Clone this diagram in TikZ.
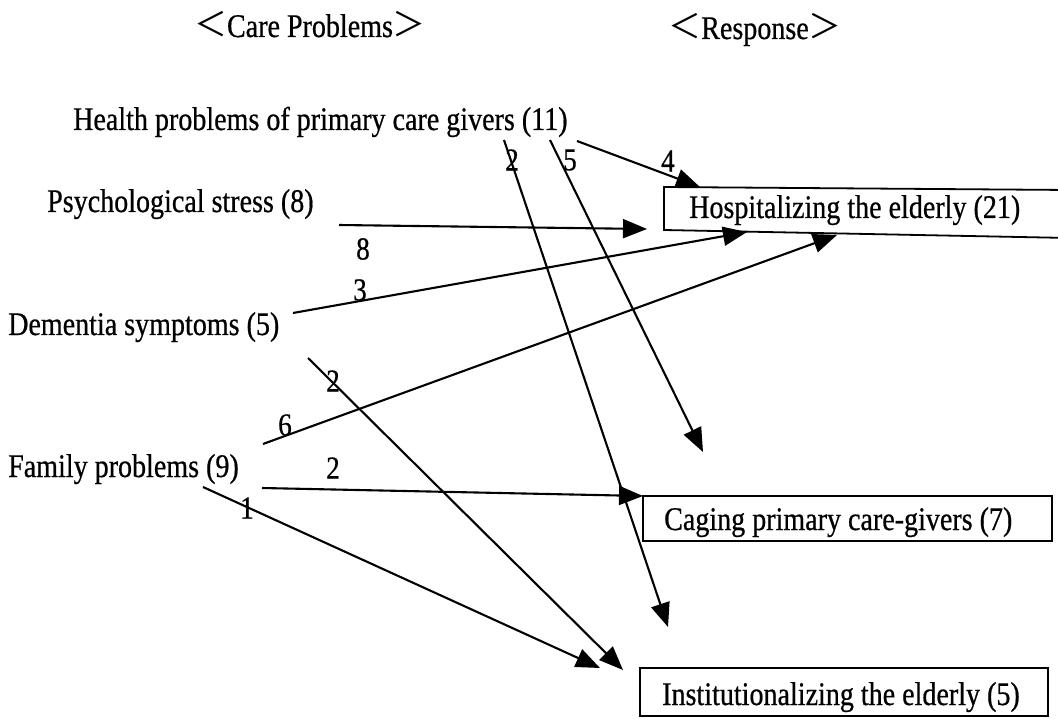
\documentclass[tikz,border=0pt]{standalone}
\usepackage{fontspec}
\setmainfont{Liberation Serif}[FakeStretch=0.85,FakeBold=0.6]
\newfontfamily\cjkbr{Noto Sans CJK JP}
\usetikzlibrary{arrows.meta}
\begin{document}
\begin{tikzpicture}[x=1pt,y=-1pt,
  lbl/.style={font=\fontsize{33}{36}\selectfont, inner sep=0pt, anchor=base west},
  hdr/.style={font=\fontsize{33}{36}\selectfont, inner sep=0pt, anchor=base},
  num/.style={font=\fontsize{32}{34}\selectfont, inner sep=0pt},
  con/.style={line width=2.1pt, -{Triangle[length=24pt,width=19pt]}},
  frame/.style={line width=1.8pt}]
\useasboundingbox (0,0) rectangle (1058,719);
\clip (0,0) rectangle (1058,719);

% headers
\node[hdr] (hcare) at (310,37) {{\cjkbr ＜}Care Problems{\cjkbr ＞}};
\node[hdr] (hresp) at (755,39) {{\cjkbr ＜}Response{\cjkbr ＞}};

% problems
\node[lbl] (health) at (73,130) {Health problems of primary care givers (11)};
\node[lbl] (psych) at (47,212) {Psychological stress (8)};
\node[lbl] (dem) at (8,335) {Dementia symptoms (5)};
\node[lbl] (fam) at (8,477) {Family problems (9)};

% response boxes
\draw[frame] (1070,190) -- (664,187) -- (664,230) -- (1070,238);
\node[lbl] (hosp) at (689,218) {Hospitalizing the elderly (21)};
\draw[frame] (643,496) rectangle (1052,541);
\node[lbl] (cage) at (664,530) {Caging primary care-givers (7)};
\draw[frame] (640,668) rectangle (1048,716);
\node[lbl] (inst) at (662,705) {Institutionalizing the elderly (5)};

% connector ends
\coordinate (s4) at (577,141);  \coordinate (e4) at (700,187);
\coordinate (s2h) at (504,140); \coordinate (e2h) at (668,627);
\coordinate (s5) at (550,140);  \coordinate (e5) at (703,452);
\coordinate (s8) at (339,225);  \coordinate (e8) at (647,229);
\coordinate (s3) at (293,313);  \coordinate (e3) at (747,232);
\coordinate (s2d) at (308,358); \coordinate (e2d) at (623,670);
\coordinate (s6) at (263,444);  \coordinate (e6) at (837,235);
\coordinate (s2f) at (262,488); \coordinate (e2f) at (643,496);
\coordinate (s1) at (203,487);  \coordinate (e1) at (600,668);

\draw[con] (s4) -- (e4);
\draw[con] (s2h) -- (e2h);
\draw[con] (s5) -- (e5);
\draw[con] (s8) -- (e8);
\draw[con] (s3) -- (e3);
\draw[con] (s2d) -- (e2d);
\draw[con] (s6) -- (e6);
\draw[con] (s2f) -- (e2f);
\draw[con] (s1) -- (e1);

% flow counts
\node[num] (n4) at (668,161) {4};
\node[num] (n2h) at (512,160) {2};
\node[num] (n5) at (570,160) {5};
\node[num] (n8) at (363,249) {8};
\node[num] (n3) at (360,290) {3};
\node[num] (n2d) at (333,381) {2};
\node[num] (n6) at (285,425) {6};
\node[num] (n2f) at (333,468) {2};
\node[num] (n1) at (247,508) {1};
\end{tikzpicture}
\end{document}
